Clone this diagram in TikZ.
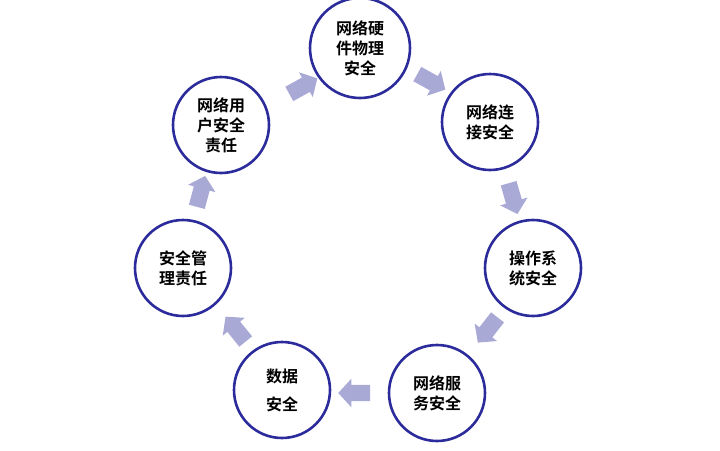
\documentclass[tikz,border=0pt]{standalone}
\usepackage{fontspec}
\setmainfont{Noto Sans CJK SC}[BoldFont={Noto Sans CJK SC Bold}]
\usetikzlibrary{shapes.arrows}
\definecolor{ring}{HTML}{2B2B9C}
\definecolor{arr}{HTML}{A9A9D6}
\begin{document}
\begin{tikzpicture}[x=1pt,y=-1pt,
  circ/.style={circle,draw=ring,line width=2.6pt,fill=white,minimum size=96pt,inner sep=0pt,align=center,font=\bfseries\fontsize{16}{20}\selectfont},
  blk/.style={single arrow,fill=arr,draw=none,minimum height=32pt,single arrow head extend=6pt,single arrow tip angle=95,inner xsep=5pt,inner ysep=8pt}]
\useasboundingbox (0,0) rectangle (720,450);
\node[circ,minimum size=100pt] (c1) at (360,48) {网络硬\\件物理\\安全};
\node[circ] (c2) at (490,122) {网络连\\接安全};
\node[circ] (c3) at (533,268) {操作系\\统安全};
\node[circ] (c4) at (437,393) {网络服\\务安全};
\node[circ,font=\bfseries\fontsize{16}{28}\selectfont] (c5) at (282,390) {数据\\安全};
\node[circ] (c6) at (183,268) {安全管\\理责任};
\node[circ] (c7) at (221,125) {网络用\\户安全\\责任};
\node[blk,rotate=29] (a1) at (300,88) {};
\node[blk,rotate=-29] (a2) at (428,80) {};
\node[blk,rotate=-74] (a3) at (512,195) {};
\node[blk,rotate=-128] (a4) at (490,327) {};
\node[blk,rotate=180] (a5) at (358,393) {};
\node[blk,rotate=129] (a6) at (238,332) {};
\node[blk,rotate=75] (a7) at (200,195) {};
\end{tikzpicture}
\end{document}
